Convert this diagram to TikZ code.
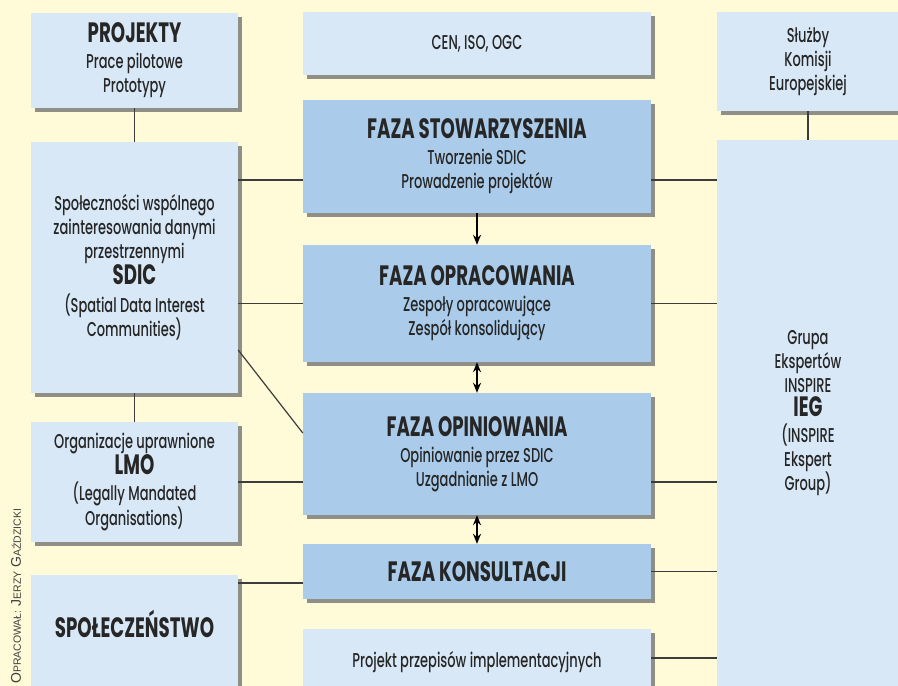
\documentclass[tikz,border=0pt]{standalone}
\usepackage{fontspec}
\setmainfont{Poppins}[FakeStretch=0.65,UprightFont=* Medium,BoldFont=* Bold]
\newfontfamily\podpisfont{Liberation Sans}
\usetikzlibrary{arrows.meta,shadows}
\definecolor{tlo}{RGB}{255,250,215}
\definecolor{jasnyblue}{RGB}{216,232,246}
\definecolor{fazablue}{RGB}{170,204,234}
\definecolor{linia}{RGB}{60,60,60}
\newcommand{\tyt}[1]{{\fontsize{28}{29}\selectfont\bfseries #1}}
\newcommand{\kap}[1]{{\fontsize{10.5}{11}\selectfont #1}}

\begin{document}
\begin{tikzpicture}[x=1pt,y=-1pt,
      box/.style={rectangle,fill=jasnyblue,inner sep=0pt,minimum width=207pt,align=center,font=\fontsize{20}{24}\selectfont,text=black!85,
        drop shadow={shadow xshift=4pt,shadow yshift=-4pt,fill=black!55,opacity=.8}},
      faza/.style={box,fill=fazablue,minimum width=348pt},
      srodek/.style={box,minimum width=348pt},
      prawy/.style={box,minimum width=182pt},
      laczenie/.style={draw=linia,line width=1.2pt},
      >={Stealth[length=10pt,width=8pt]}
    ]
    \useasboundingbox (0,0) rectangle (898,686);
    \clip (0,0) rectangle (898,686);
    \fill[tlo] (0,0) rectangle (898,686);

    % lewa kolumna
    \node[box,minimum height=95pt] (projekty) at (134.5,60.5) {\tyt{PROJEKTY}\\[2pt]Prace pilotowe\\Prototypy};
    \node[box,minimum height=251pt] (sdic) at (134.5,267.5) {Społeczności wspólnego\\zainteresowania danymi\\przestrzennymi\\\tyt{SDIC}\\[4pt](Spatial Data Interest\\Communities)};
    \node[box,minimum height=120pt] (lmo) at (134.5,482) {Organizacje uprawnione\\\tyt{LMO}\\[2pt](Legally Mandated\\Organisations)};
    \node[box,minimum height=130pt,text height=19pt,text depth=25pt] (spol) at (134.5,640) {\tyt{SPOŁECZEŃSTWO}};

    % fazy
    \node[srodek,minimum height=63pt] (cen) at (477,43.5) {CEN, ISO, OGC};
    \node[faza,minimum height=113pt] (stow) at (477,156.5) {\tyt{FAZA STOWARZYSZENIA}\\[2pt]Tworzenie SDIC\\Prowadzenie projektów};
    \node[faza,minimum height=117pt] (oprac) at (477,303.5) {\tyt{FAZA OPRACOWANIA}\\[2pt]Zespoły opracowujące\\Zespół konsolidujący};
    \node[faza,minimum height=122pt] (opin) at (477,454) {\tyt{FAZA OPINIOWANIA}\\[2pt]Opiniowanie przez SDIC\\Uzgadnianie z LMO};
    \node[faza,minimum height=55pt] (kons) at (477,571.5) {\tyt{FAZA KONSULTACJI}};
    \node[srodek,minimum height=66pt] (impl) at (477,662) {Projekt przepisów implementacyjnych};

    % prawa kolumna
    \node[prawy,minimum height=99pt] (sluzby) at (808,61.5) {Służby\\Komisji\\Europejskiej};
    \node[prawy,minimum height=546pt] (ieg) at (808,413) {Grupa\\Ekspertów\\INSPIRE\\\tyt{IEG}\\[2pt](INSPIRE\\Ekspert\\Group)};

    \node[rotate=90,anchor=west,inner sep=0pt,font=\podpisfont,text=black!75] (autor) at (16,684)
      {\fontsize{14}{14}\selectfont O\kap{PRACOWAŁ:} J\kap{ERZY} G\kap{AŹDZICKI}};

    % poziomy linii
    \coordinate (poz1) at (0,180);
    \coordinate (poz2) at (0,350);
    \coordinate (poz3) at (0,433);
    \coordinate (poz4) at (0,583);
    \coordinate (poz5) at (0,658);

    \draw[laczenie] (projekty) -- (sdic);
    \draw[laczenie] (sdic) -- (lmo);
    \draw[laczenie] (sluzby) -- (ieg);
    \draw[laczenie] (sdic.east |- poz1) -- (stow.west |- poz1);
    \draw[laczenie] (stow.east |- poz1) -- (ieg.west |- poz1);
    \draw[laczenie] (sdic.east |- oprac) -- (oprac.west);
    \draw[laczenie] (oprac.east) -- (ieg.west |- oprac);
    \draw[laczenie] (sdic.east |- poz2) -- (opin.west |- poz3);
    \draw[laczenie] (lmo.east) -- (opin.west |- lmo.east);
    \draw[laczenie] (opin.east |- lmo.east) -- (ieg.west |- lmo.east);
    \draw[laczenie] (spol.east |- poz4) -- (kons.west |- poz4);
    \draw[laczenie] (kons.east) -- (ieg.west |- kons.east);
    \draw[laczenie] (impl.east |- poz5) -- (ieg.west |- poz5);

    \draw[->,line width=1.4pt] (stow) -- (oprac);
    \draw[<->,line width=1.4pt] (oprac) -- (opin);
    \draw[<->,line width=1.4pt] (opin) -- (kons);
  \end{tikzpicture}
\end{document}
